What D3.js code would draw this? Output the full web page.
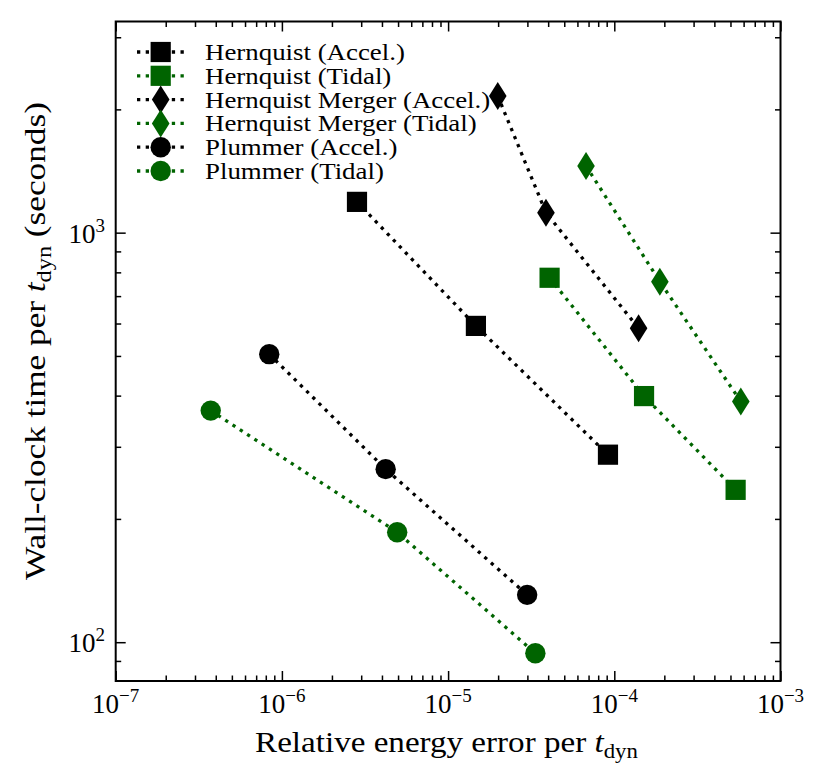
<!DOCTYPE html>
<html><head><meta charset="utf-8">
<script src="https://cdn.jsdelivr.net/npm/d3@7"></script>
<style>
body{margin:0;background:#fff}
</style>
</head><body>
<svg id="chart" width="832" height="781"></svg>
<script>
// ---------- data ----------
const seriesNames = ["Hernquist (Accel.)","Hernquist (Tidal)","Hernquist Merger (Accel.)","Hernquist Merger (Tidal)","Plummer (Accel.)","Plummer (Tidal)"];
const seriesShapes = ["square","square","diamond","diamond","circle","circle"];
const seriesColors = ["#000000","#006400","#000000","#006400","#000000","#006400"];

const hernquistAccelX = [2.83e-6, 1.47e-5, 9.16e-5];
const hernquistAccelY = [1189, 592, 287];
const hernquistTidalX = [4.08e-5, 1.51e-4, 5.37e-4];
const hernquistTidalY = [776, 399, 235.5];
const mergerAccelX = [1.99e-5, 3.88e-5, 1.40e-4];
const mergerAccelY = [2157, 1119, 584];
const mergerTidalX = [6.76e-5, 1.88e-4, 5.77e-4];
const mergerTidalY = [1455, 759, 387];
const plummerAccelX = [8.39e-7, 4.21e-6, 2.99e-5];
const plummerAccelY = [505, 264.6, 130.5];
const plummerTidalX = [3.73e-7, 4.94e-6, 3.35e-5];
const plummerTidalY = [367.7, 185.6, 94.0];

const xMajorTicks = [1e-7, 1e-6, 1e-5, 1e-4, 1e-3];
const xTickExponents = ["−7","−6","−5","−4","−3"];
const yMajorTicks = [100, 1000];
const yTickExponents = ["2","3"];
const xDomain = [1e-7, 1e-3];
const yDomain = [80.4, 3278];

const seriesX = [hernquistAccelX, hernquistTidalX, mergerAccelX, mergerTidalX, plummerAccelX, plummerTidalX];
const seriesY = [hernquistAccelY, hernquistTidalY, mergerAccelY, mergerTidalY, plummerAccelY, plummerTidalY];

// ---------- layout ----------
const FONT = '"Liberation Serif"';
const L = 115.7, R = 780.5, T = 21.5, B = 681;
const svg = d3.select("#chart");
const x = d3.scaleLog().domain(xDomain).range([L, R]);
const y = d3.scaleLog().domain(yDomain).range([B, T]);

const isPow10 = v => Math.abs(Math.log10(v) - Math.round(Math.log10(v))) < 1e-9;
const xMinor = x.ticks().filter(v => !isPow10(v));
const yMinor = y.ticks().filter(v => !isPow10(v));

function tickAxis(axisFn, scale, vals, len, tr) {
  const g = svg.append("g").attr("transform", tr)
    .call(axisFn(scale).tickValues(vals).tickSizeInner(-len).tickSizeOuter(0).tickFormat(""));
  g.select(".domain").remove();
  g.selectAll(".tick line").attr("stroke", "#000").attr("stroke-width", 1.5);
}
tickAxis(d3.axisBottom, x, xMajorTicks, 10, `translate(0,${B})`);
tickAxis(d3.axisBottom, x, xMinor, 5.5, `translate(0,${B})`);
tickAxis(d3.axisTop, x, xMajorTicks, 10, `translate(0,${T})`);
tickAxis(d3.axisTop, x, xMinor, 5.5, `translate(0,${T})`);
tickAxis(d3.axisLeft, y, yMajorTicks, 10, `translate(${L},0)`);
tickAxis(d3.axisLeft, y, yMinor, 5.5, `translate(${L},0)`);
tickAxis(d3.axisRight, y, yMajorTicks, 10, `translate(${R},0)`);
tickAxis(d3.axisRight, y, yMinor, 5.5, `translate(${R},0)`);

svg.append("rect").attr("x", L).attr("y", T).attr("width", R - L).attr("height", B - T)
  .attr("fill", "none").attr("stroke", "#000").attr("stroke-width", 2);

function txt(sel) { return sel.append("text").style("font-family", FONT).attr("fill", "#000"); }

// tick labels
xMajorTicks.forEach((v, i) => {
  const t = txt(svg).attr("x", x(v)).attr("y", 713).attr("text-anchor", "middle").attr("font-size", 27);
  t.append("tspan").text("10");
  t.append("tspan").attr("font-size", 19).attr("dy", -11).text(xTickExponents[i]);
});
yMajorTicks.forEach((v, i) => {
  const t = txt(svg).attr("x", 105).attr("y", y(v) + 10).attr("text-anchor", "end").attr("font-size", 27);
  t.append("tspan").text("10");
  t.append("tspan").attr("font-size", 19).attr("dy", -11).text(yTickExponents[i]);
});

function stretch(t, cx, cy, rot, target) {
  const w = t.node().getBBox().width;
  const s = target / w;
  t.attr("transform", `translate(${cx},${cy}) rotate(${rot}) scale(${s},1)`);
}

// axis labels
const xl = txt(svg).attr("text-anchor", "middle").attr("font-size", 29);
xl.append("tspan").text("Relative energy error per ");
xl.append("tspan").attr("font-style", "italic").text("t");
xl.append("tspan").attr("font-size", 20).attr("dy", 6).text("dyn");
stretch(xl, 446.5, 752, 0, 383);

const yl = txt(svg).attr("text-anchor", "middle").attr("font-size", 29);
yl.append("tspan").text("Wall-clock time per ");
yl.append("tspan").attr("font-style", "italic").text("t");
yl.append("tspan").attr("font-size", 20).attr("dy", 6).text("dyn");
yl.append("tspan").attr("dy", -6).text(" (seconds)");
stretch(yl, 45, 341, -90, 478);

// markers
function marker(g, shape, cx, cy, color) {
  if (shape === "square") {
    g.append("rect").attr("x", cx - 10.1).attr("y", cy - 10.1).attr("width", 20.2).attr("height", 20.2).attr("fill", color);
  } else if (shape === "circle") {
    g.append("circle").attr("cx", cx).attr("cy", cy).attr("r", 10.2).attr("fill", color);
  } else {
    const hw = 8.8, hh = 14;
    g.append("path").attr("d", `M${cx},${cy - hh}L${cx + hw},${cy}L${cx},${cy + hh}L${cx - hw},${cy}Z`).attr("fill", color);
  }
}

const line = d3.line().x(d => x(d[0])).y(d => y(d[1]));
seriesNames.forEach((name, i) => {
  const pts = seriesX[i].map((v, j) => [v, seriesY[i][j]]);
  const g = svg.append("g");
  g.append("path").attr("d", line(pts)).attr("fill", "none").attr("stroke", seriesColors[i])
    .attr("stroke-width", 3.3).attr("stroke-dasharray", "3.3,5.4");
  pts.forEach(p => marker(g, seriesShapes[i], x(p[0]), y(p[1]), seriesColors[i]));
});

// legend
const lg = svg.append("g");
let legendScale = null;
seriesNames.forEach((name, i) => {
  const ry = 52 + i * 23.8;
  lg.append("line").attr("x1", 137).attr("x2", 185).attr("y1", ry).attr("y2", ry)
    .attr("stroke", seriesColors[i]).attr("stroke-width", 3.3).attr("stroke-dasharray", "3.3,5.4");
  marker(lg, seriesShapes[i], 160.7, ry, seriesColors[i]);
  const t = txt(lg).attr("font-size", 24).text(name);
  if (legendScale === null) legendScale = 200 / t.node().getBBox().width;
  t.attr("transform", `translate(205,${ry + 8}) scale(${legendScale},1)`);
});
</script>
</body></html>
